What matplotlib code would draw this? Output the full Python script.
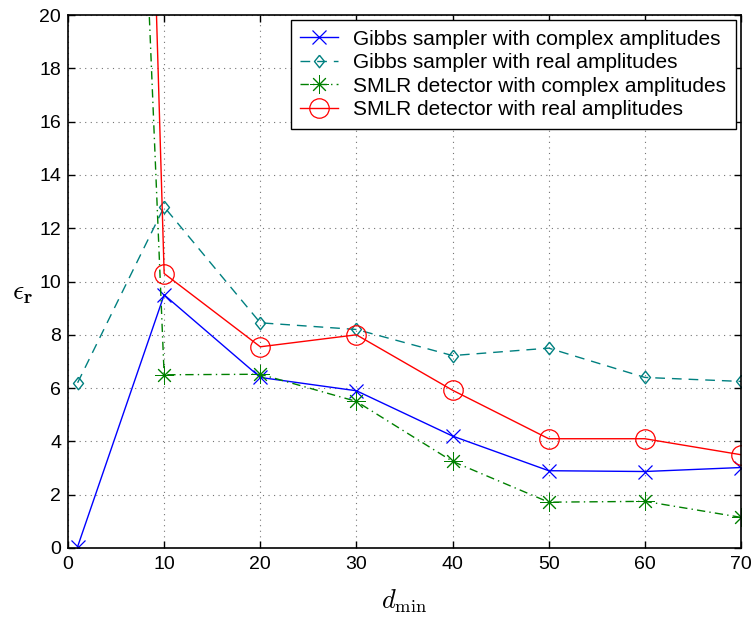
import matplotlib
matplotlib.use('Agg')
import matplotlib.pyplot as plt

plt.rcParams['font.family'] = ['Liberation Sans', 'DejaVu Sans']
plt.rcParams['mathtext.fontset'] = 'cm'

# minimum distance values
d_min = [1, 10, 20, 30, 40, 50, 60, 70]

# error for each detector
gibbs_complex = [0.05, 9.5, 6.4, 5.9, 4.2, 2.9, 2.87, 3.02]
gibbs_real = [6.2, 12.8, 8.45, 8.2, 7.22, 7.5, 6.4, 6.25]
smlr_complex = [85.0, 6.5, 6.52, 5.5, 3.25, 1.72, 1.75, 1.15]
smlr_real = [120.0, 10.3, 7.55, 8.0, 5.92, 4.1, 4.1, 3.5]

# diamond a bit narrower than it is tall
diamond = [(0, 1), (0.8, 0), (0, -1), (-0.8, 0), (0, 1)]

fig = plt.figure(figsize=(7.55, 6.2), dpi=100)
ax = fig.add_axes([68 / 755, 1 - 548 / 620, 673 / 755, 533 / 620])

ax.plot(d_min, gibbs_complex, color='#0000ff', marker='x', markersize=10,
        markeredgewidth=0.9, linewidth=1,
        label='Gibbs sampler with complex amplitudes')
ax.plot(d_min, gibbs_real, color='#008080', marker=diamond, markersize=9,
        markerfacecolor='none', markeredgewidth=1, linestyle=(0, (7, 5)),
        linewidth=1, label='Gibbs sampler with real amplitudes')
ax.plot(d_min, smlr_complex, color='#008000', marker=(8, 2, 0), markersize=13,
        markeredgewidth=0.7, linestyle=(0, (6, 3, 1, 3)), linewidth=1,
        label='SMLR detector with complex amplitudes')
ax.plot(d_min, smlr_real, color='#ff0000', marker='o', markersize=14,
        markerfacecolor='none', markeredgewidth=0.9, linewidth=1,
        label='SMLR detector with real amplitudes')

ax.set_xlim(0, 70)
ax.set_ylim(0, 20)
ax.set_xticks(range(0, 71, 10))
ax.set_yticks(range(0, 21, 2))
ax.tick_params(direction='in', top=True, right=True, labelsize=14,
               length=5, width=1, pad=6)
ax.tick_params(axis='y', pad=5)
ax.grid(True, linestyle=(0, (1, 4)), color='black', linewidth=0.8, alpha=0.55)
for s in ax.spines.values():
    s.set_linewidth(1.2)

ax.set_xlabel(r'$d_{\min}$', fontsize=19, labelpad=10)
ax.set_ylabel(r'$\epsilon_{\mathbf{r}}$', fontsize=20, rotation=0, va='center')
ax.yaxis.set_label_coords(-0.067, 0.478)

leg = ax.legend(loc='upper right', fontsize=15, fancybox=False, framealpha=1,
                edgecolor='black', borderaxespad=0.25, handlelength=1.8,
                handletextpad=0.75, labelspacing=0.22, borderpad=0.45)
leg.get_frame().set_linewidth(1)

fig.savefig('out.png', dpi=100)
